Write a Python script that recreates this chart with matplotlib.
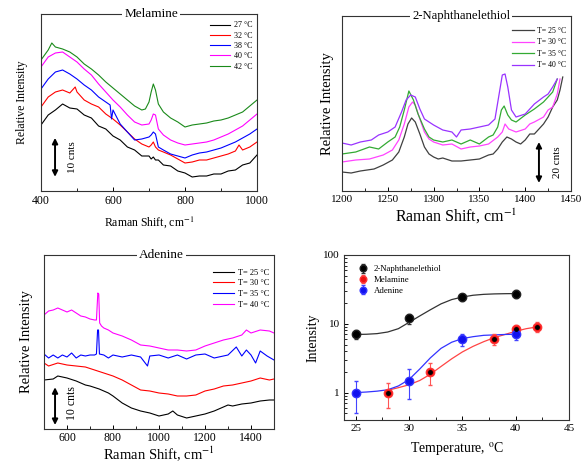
import matplotlib
matplotlib.use("Agg")
import matplotlib.pyplot as plt
from matplotlib.ticker import MultipleLocator, FixedLocator, NullFormatter, LogLocator

plt.rcParams['font.family'] = ['Liberation Serif', 'DejaVu Serif']
plt.rcParams['mathtext.fontset'] = 'stix'

# ---------------- Melamine (relative intensity, arbitrary units) ----------------
mel_labels = ['27 °C', '32 °C', '38 °C', '40 °C', '42 °C']
mel_colors = ['black', '#ff0000', '#0000ff', '#ff00ff', '#1a8a1a']
mel_x27 = [400,420,440,460,480,500,520,540,560,580,600,620,640,660,680,700,706,712,718,726,740,760,780,800,820,840,860,880,900,920,940,960,980,1000]
mel_y27 = [66,76,81,87,83,82,76,73,65,62,55,51,44,41,35,35,32,34,31,31,26,25,20,18,14,15,15,17,17,20,21,26,28,36]
mel_x32 = [400,420,440,460,480,495,500,520,540,560,580,600,620,640,660,680,700,706,712,718,726,740,760,780,800,820,840,860,880,900,920,940,950,960,980,1000]
mel_y32 = [84,94,99,101,98,104,99,91,87,84,77,72,66,59,52,47,44,46,49,44,41,39,36,32,28,29,31,31,33,35,37,40,46,41,44,49]
mel_x38 = [400,420,440,460,480,500,520,540,560,580,592,596,600,620,640,660,680,700,706,712,718,726,740,760,780,800,820,840,860,880,900,920,940,960,980,1000]
mel_y38 = [102,112,119,121,117,112,106,101,94,89,86,72,81,67,59,51,52,54,56,59,57,44,41,37,35,33,36,38,39,41,43,46,49,53,57,62]
mel_x40 = [400,420,440,460,480,500,520,540,560,580,600,620,640,660,680,700,706,712,718,726,740,760,780,800,820,840,860,880,900,920,940,960,980,1000]
mel_y40 = [124,134,138,139,134,129,122,116,107,99,91,84,76,69,66,67,71,77,76,62,56,51,48,46,47,48,49,51,54,57,61,65,71,77]
mel_x42 = [400,420,430,440,460,480,500,520,540,560,580,600,620,640,660,680,690,700,706,712,718,726,740,760,780,800,820,840,860,880,900,920,940,960,980,1000]
mel_y42 = [131,141,148,144,142,139,134,127,122,116,109,103,97,91,85,81,82,89,99,107,101,87,79,73,69,64,66,67,68,70,71,73,76,79,85,91]

# ---------------- 2-Naphthanelethiol ----------------
nap_labels = ['T= 25 °C', 'T= 30 °C', 'T= 35 °C', 'T= 40 °C']
nap_colors = ['#404040', '#ff44ff', '#33aa33', '#9933ff']
nap_x25 = [1200,1210,1220,1235,1245,1255,1262,1268,1272,1276,1280,1285,1290,1295,1300,1305,1310,1320,1330,1340,1350,1360,1365,1370,1375,1380,1385,1390,1395,1400,1405,1410,1415,1420,1425,1430,1435,1438,1441]
nap_y25 = [19,18,20,22,26,31,39,54,67,73,69,57,44,37,34,32,33,30,30,31,32,36,37,42,49,54,52,49,47,51,57,57,62,67,74,84,91,101,114]
nap_x30 = [1200,1215,1230,1245,1255,1262,1268,1273,1277,1280,1285,1290,1295,1300,1310,1320,1330,1340,1350,1360,1370,1375,1378,1382,1390,1400,1405,1410,1420,1425,1430,1435,1438]
nap_y30 = [29,31,32,36,41,51,67,84,89,86,72,59,52,49,46,47,42,44,45,47,54,59,67,62,59,62,67,69,74,81,84,97,112]
nap_x35 = [1200,1215,1230,1240,1250,1258,1263,1268,1273,1278,1283,1290,1295,1300,1310,1320,1330,1340,1350,1360,1365,1370,1374,1377,1381,1385,1390,1400,1405,1410,1420,1425,1430,1435]
nap_y35 = [37,39,44,42,49,54,64,81,100,91,77,62,54,51,49,51,47,51,47,54,56,64,81,85,76,71,69,76,79,82,89,94,99,112]
nap_x40 = [1200,1210,1220,1232,1240,1250,1258,1265,1270,1275,1280,1285,1290,1300,1310,1320,1325,1330,1340,1350,1360,1367,1371,1375,1378,1381,1385,1390,1400,1405,1410,1420,1425,1430,1435]
nap_y40 = [48,46,49,51,56,59,64,79,91,96,94,82,72,66,61,59,54,61,62,64,66,72,94,116,117,104,81,74,77,82,87,94,97,104,112]

# ---------------- Adenine ----------------
ade_labels = ['T= 25 °C', 'T= 30 °C', 'T= 35 °C', 'T= 40 °C']
ade_colors = ['black', '#ff0000', '#0000ff', '#ff00ff']
ade_x25 = [500,540,560,580,600,640,680,700,740,780,800,840,880,920,960,1000,1040,1060,1080,1120,1160,1200,1240,1280,1300,1320,1360,1400,1440,1480,1500]
ade_y25 = [49,50,53,52,51,48,44,43,40,36,33,26,21,18,16,13,15,18,14,11,13,15,18,22,24,23,25,26,28,29,29]
ade_x30 = [500,520,560,600,640,680,720,760,800,840,880,920,960,1000,1040,1080,1120,1160,1200,1240,1280,1320,1360,1400,1440,1480,1500]
ade_y30 = [66,63,66,64,63,62,59,56,53,49,44,39,38,36,35,33,33,34,38,40,43,44,46,48,51,49,50]
ade_x35 = [500,520,540,560,580,600,620,640,660,680,700,720,728,733,737,741,760,780,800,840,880,920,950,960,1000,1040,1080,1120,1160,1200,1240,1300,1336,1360,1380,1400,1420,1440,1470,1500]
ade_y35 = [75,71,74,71,74,72,76,71,74,73,74,74,75,99,99,75,74,71,74,72,74,72,63,73,74,71,74,70,74,75,71,74,82,73,79,74,66,78,73,69]
ade_x40 = [500,520,540,560,580,600,620,640,660,680,700,720,728,734,738,742,750,760,780,800,840,880,920,960,1000,1040,1080,1120,1160,1200,1240,1280,1320,1360,1380,1400,1440,1480,1500]
ade_y40 = [114,118,119,121,119,117,119,116,113,112,110,109,109,136,135,106,103,101,99,96,93,89,84,83,81,79,79,78,79,83,86,89,91,94,99,96,99,98,96]

# ---------------- Intensity vs temperature ----------------
nap_T = [25, 30, 35, 40]
nap_I = [7.0, 12.0, 24.5, 27.5]
nap_err = [1.0, 2.0, 3.0, 4.0]
mel_T = [28, 32, 38, 40, 42]
mel_I = [1.0, 2.0, 6.0, 8.5, 9.0]
mel_err = [0.4, 0.7, 1.0, 1.2, 1.5]
ade_T = [25, 30, 35, 40]
ade_I = [1.0, 1.5, 6.0, 7.0]
ade_err = [0.5, 0.7, 1.2, 1.2]
fitN_T = [25,26,27,28,29,30,31,32,33,34,35,36,37,38,39,40]
fitN_I = [7.0,7.05,7.2,7.6,8.5,10.5,13,16,19.5,22.5,24.5,26,26.8,27.2,27.4,27.5]
fitA_T = [25,26,27,28,29,30,31,32,33,34,35,36,37,38,39,40]
fitA_I = [1.0,1.02,1.05,1.1,1.25,1.55,2.2,3.2,4.4,5.4,6.1,6.5,6.8,6.9,7.0,7.05]
fitM_T = [28,29,30,31,32,33,34,35,36,37,38,39,40,41,42]
fitM_I = [1.08,1.18,1.3,1.5,1.85,2.4,3.1,3.9,4.7,5.5,6.3,7.0,7.8,8.5,9.0]

fig = plt.figure(figsize=(5.83, 4.62), dpi=100)
W, H = 583.0, 462.0

def make_ax(l, t, r, b):
    return fig.add_axes([l / W, 1 - b / H, (r - l) / W, (b - t) / H])

ax1 = make_ax(41, 14, 257, 191)
ax2 = make_ax(342, 16, 571, 191)
ax3 = make_ax(44, 255, 274, 429)
ax4 = make_ax(344, 255, 569, 420)

for ax in (ax1, ax2, ax3, ax4):
    for s in ax.spines.values():
        s.set_linewidth(0.8)
        s.set_color('#333333')
    ax.tick_params(which='both', direction='in', top=False, right=False)
    ax.tick_params(which='major', length=3, width=0.7)
    ax.tick_params(which='minor', length=2, width=0.6)

def title_on_spine(ax, txt, fs, xc=0.5):
    ax.text(xc, 1.0, txt, transform=ax.transAxes, ha='center', va='center', fontsize=fs,
            bbox=dict(facecolor='white', edgecolor='none', pad=1.5), zorder=10, clip_on=False)

def double_arrow(ax, x, y0, y1, label, tx, ty, fs):
    ax.annotate('', xy=(x, y0), xytext=(x, y1), xycoords='axes fraction', textcoords='axes fraction',
                arrowprops=dict(arrowstyle='<|-|>', lw=1.4, color='black', mutation_scale=8, shrinkA=0, shrinkB=0))
    ax.text(tx, ty, label, transform=ax.transAxes, rotation=90, ha='center', va='center', fontsize=fs)

# Panel 1: Melamine
for xs, ys, c, lab in zip([mel_x27, mel_x32, mel_x38, mel_x40, mel_x42],
                          [mel_y27, mel_y32, mel_y38, mel_y40, mel_y42], mel_colors, mel_labels):
    ax1.plot(xs, ys, color=c, lw=0.8, label=lab)
ax1.set_xlim(400, 1000)
ax1.set_ylim(0, 177)
ax1.set_yticks([])
ax1.xaxis.set_major_locator(MultipleLocator(200))
ax1.xaxis.set_minor_locator(MultipleLocator(100))
ax1.tick_params(axis='x', labelsize=8.5, pad=3)
ax1.set_xlabel('Raman Shift, cm$^{-1}$', fontsize=8.5, labelpad=5)
ax1.set_ylabel('Relative Intensity', fontsize=8.5, labelpad=9)
ax1.legend(loc='upper right', bbox_to_anchor=(1.0, 0.985), frameon=False, fontsize=5.8,
           handlelength=2.6, labelspacing=0.28, handletextpad=0.4, borderaxespad=0.2)
title_on_spine(ax1, 'Melamine', 9.5, 0.51)
double_arrow(ax1, 0.065, 0.08, 0.30, '10 cnts', 0.145, 0.19, 8)

# Panel 2: 2-Naphthanelethiol
for xs, ys, c, lab in zip([nap_x25, nap_x30, nap_x35, nap_x40],
                          [nap_y25, nap_y30, nap_y35, nap_y40], nap_colors, nap_labels):
    ax2.plot(xs, ys, color=c, lw=0.9, label=lab)
ax2.set_xlim(1200, 1450)
ax2.set_ylim(0, 175)
ax2.set_yticks([])
ax2.xaxis.set_major_locator(MultipleLocator(50))
ax2.xaxis.set_minor_locator(MultipleLocator(25))
ax2.tick_params(axis='x', labelsize=8, pad=3)
ax2.set_xlabel('Raman Shift, cm$^{-1}$', fontsize=11.5, labelpad=2)
ax2.set_ylabel('Relative Intensity', fontsize=10.5, labelpad=6)
ax2.legend(loc='upper right', bbox_to_anchor=(1.0, 0.965), frameon=False, fontsize=5.6,
           handlelength=2.8, labelspacing=0.45, handletextpad=0.4, borderaxespad=0.2)
title_on_spine(ax2, '2-Naphthanelethiol', 9.2, 0.52)
double_arrow(ax2, 0.86, 0.046, 0.28, '20 cnts', 0.94, 0.165, 8)

# Panel 3: Adenine
for xs, ys, c, lab in zip([ade_x25, ade_x30, ade_x35, ade_x40],
                          [ade_y25, ade_y30, ade_y35, ade_y40], ade_colors, ade_labels):
    ax3.plot(xs, ys, color=c, lw=0.8, label=lab)
ax3.set_xlim(500, 1500)
ax3.set_ylim(0, 174)
ax3.set_yticks([])
ax3.xaxis.set_major_locator(FixedLocator([600, 800, 1000, 1200, 1400]))
ax3.xaxis.set_minor_locator(MultipleLocator(100))
ax3.tick_params(axis='x', labelsize=8.5, pad=2)
ax3.set_xlabel('Raman Shift, cm$^{-1}$', fontsize=10.5, labelpad=0)
ax3.set_ylabel('Relative Intensity', fontsize=10.5, labelpad=8)
ax3.legend(loc='upper right', bbox_to_anchor=(1.0, 0.95), frameon=False, fontsize=6,
           handlelength=2.6, labelspacing=0.32, handletextpad=0.4, borderaxespad=0.2)
title_on_spine(ax3, 'Adenine', 9.5, 0.51)
double_arrow(ax3, 0.048, 0.023, 0.24, '10 cnts', 0.12, 0.15, 8.5)

# Panel 4: Intensity vs Temperature
ax4.set_yscale('log')
ax4.plot(fitN_T, fitN_I, color='#333333', lw=0.9)
ax4.plot(fitM_T, fitM_I, color='#ff4444', lw=0.9)
ax4.plot(fitA_T, fitA_I, color='#3333ff', lw=0.9)
ax4.errorbar(nap_T, nap_I, yerr=nap_err, fmt='o', color='black', ecolor='#333333', ms=6,
             mfc='black', mec='#222222', capsize=1.5, elinewidth=0.8, label='2-Naphthanelethiol', zorder=5)
ax4.errorbar(mel_T, mel_I, yerr=mel_err, fmt='o', color='red', ecolor='#ff5555', ms=6,
             mfc='#ee1111', mec='#ff3333', capsize=1.5, elinewidth=0.8, label='Melamine', zorder=5)
ax4.plot(mel_T, mel_I, 'o', ms=2.5, color='black', zorder=6)
ax4.errorbar(ade_T, ade_I, yerr=ade_err, fmt='o', color='blue', ecolor='#4444ff', ms=6,
             mfc='#1111ee', mec='#3333ff', capsize=1.5, elinewidth=0.8, label='Adenine', zorder=5)
ax4.set_xlim(23.9, 45)
ax4.set_ylim(0.4, 100)
ax4.xaxis.set_major_locator(MultipleLocator(5))
ax4.xaxis.set_minor_locator(MultipleLocator(2.5))
ax4.yaxis.set_major_locator(FixedLocator([1, 10, 100]))
ax4.set_yticklabels(['1', '10', '100'])
ax4.yaxis.set_minor_locator(LogLocator(base=10, subs=[2, 3, 4, 5, 6, 7, 8, 9]))
ax4.yaxis.set_minor_formatter(NullFormatter())
ax4.tick_params(axis='both', labelsize=8, pad=3)
ax4.set_xlabel('Temperature, $^{\\mathrm{o}}$C', fontsize=10, labelpad=5)
ax4.set_ylabel('Intensity', fontsize=10, labelpad=3)
ax4.legend(loc='upper left', bbox_to_anchor=(0.04, 0.97), frameon=False, fontsize=6.3,
           handlelength=1.0, labelspacing=0.3, handletextpad=0.8, borderaxespad=0.2, markerscale=0.8)

fig.savefig('out.png', dpi=100, facecolor='white')
